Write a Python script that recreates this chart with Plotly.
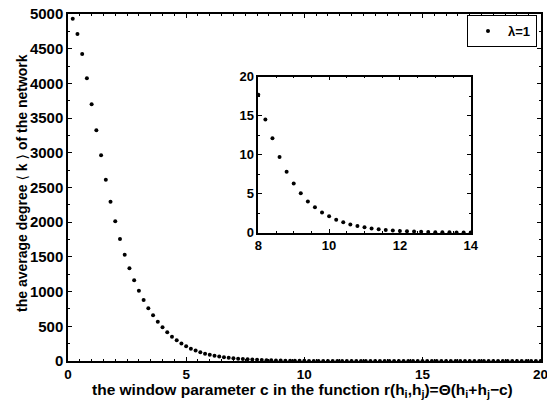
import plotly.graph_objects as go

c_values = [round(0.2 * i, 1) for i in range(1, 101)]
k_values = [
    4932, 4712, 4424, 4073, 3699, 3324, 2964, 2612, 2295, 2013,
    1758, 1532, 1336, 1163, 1013, 879, 759, 659, 566, 486,
    414, 350, 300, 253, 212, 178, 150, 126, 106, 90,
    76.5, 65, 55, 46.8, 39.8, 33.8, 28.7, 24.4, 20.8, 17.7,
    14.5, 12.1, 9.7, 7.8, 6.3, 5.05, 4.0, 3.25, 2.6, 2.1,
    1.67, 1.33, 1.04, 0.86, 0.69, 0.55, 0.44, 0.35, 0.28, 0.22,
    0.18, 0.14, 0.11, 0.09, 0.07, 0.056, 0.045, 0.036, 0.029, 0.023,
    0.018, 0.015, 0.012, 0.0095, 0.0076, 0.006, 0.0048, 0.0038, 0.003, 0.0024,
    0.0019, 0.0015, 0.0012, 0.001, 0.0008, 0.0006, 0.0005, 0.0004, 0.0003, 0.00025,
    0.0002, 0.00016, 0.00013, 0.0001, 0.00008, 0.00006, 0.00005, 0.00004, 0.00003, 0.00002,
]
legend_label = "λ=1"
x_title = "the window parameter c in the function r(h<sub>i</sub>,h<sub>j</sub>)=Θ(h<sub>i</sub>+h<sub>j</sub>−c)"
y_title = ("the average degree <span style=\"font-family:DejaVu Sans;font-weight:normal\">\u27E8</span> k "
           "<span style=\"font-family:DejaVu Sans;font-weight:normal\">\u27E9</span> of the network")
main_xticks = [0, 5, 10, 15, 20]
main_yticks = [0, 500, 1000, 1500, 2000, 2500, 3000, 3500, 4000, 4500, 5000]
inset_xticks = [8, 10, 12, 14]
inset_yticks = [0, 5, 10, 15, 20]
inset_xrange = [8, 14]

inset_c = [c for c in c_values if inset_xrange[0] - 1e-9 <= c <= inset_xrange[1] + 1e-9]
inset_k = [k for c, k in zip(c_values, k_values) if inset_xrange[0] - 1e-9 <= c <= inset_xrange[1] + 1e-9]

FONT = "Liberation Sans, Arial, Helvetica, sans-serif"
W, H = 547, 403

fig = go.Figure()
fig.add_trace(go.Scatter(
    x=c_values, y=k_values, mode="markers", name=legend_label,
    marker=dict(color="black", size=4), cliponaxis=False,
    xaxis="x", yaxis="y",
))
fig.add_trace(go.Scatter(
    x=inset_c, y=inset_k, mode="markers", showlegend=False,
    marker=dict(color="black", size=4), cliponaxis=False,
    xaxis="x2", yaxis="y2",
))

axis_common = dict(
    showline=True, linecolor="black", linewidth=1.5, mirror="allticks",
    ticks="inside", ticklen=4, tickwidth=1, tickcolor="black",
    showgrid=False, zeroline=False, automargin=False,
    ticklabeloverflow="allow",
)

fig.update_layout(
    width=W, height=H,
    margin=dict(l=0, r=0, t=0, b=0),
    paper_bgcolor="white", plot_bgcolor="white",
    font=dict(family=FONT, color="black", size=14, weight="bold"),
    xaxis=dict(
        domain=[68 / W, 540.6 / W], range=[0, 20], tickvals=main_xticks,
        minor=dict(ticks="inside", dtick=0.5, ticklen=2, tickcolor="black"),
        tickfont=dict(size=13.5, weight="bold"),
        anchor="y", **axis_common,
    ),
    yaxis=dict(
        domain=[1 - 361 / H, 1 - 14 / H], range=[0, 5000], tickvals=main_yticks,
        minor=dict(ticks="inside", dtick=250, ticklen=2, tickcolor="black"),
        tickfont=dict(size=15, weight="bold"),
        anchor="x", **axis_common,
    ),
    xaxis2=dict(
        domain=[258.3 / W, 470.7 / W], range=inset_xrange, tickvals=inset_xticks,
        minor=dict(ticks="inside", dtick=0.5, ticklen=2, tickcolor="black"),
        tickfont=dict(size=13, weight="bold"),
        anchor="y2", **axis_common,
    ),
    yaxis2=dict(
        domain=[1 - 232.7 / H, 1 - 76.7 / H], range=[0, 20], tickvals=inset_yticks,
        minor=dict(ticks="inside", dtick=2.5, ticklen=2, tickcolor="black"),
        tickfont=dict(size=13, weight="bold"),
        anchor="x2", **axis_common,
    ),
    legend=dict(
        x=537 / W, y=1 - 15 / H, xanchor="right", yanchor="top",
        bordercolor="black", borderwidth=1, bgcolor="white",
        font=dict(size=13, weight="bold"), itemwidth=30,
        tracegroupgap=0,
    ),
    showlegend=True,
    annotations=[
        dict(text=x_title, xref="paper", yref="paper",
             x=302.5 / W, y=1 - 390 / H, xanchor="center", yanchor="middle",
             showarrow=False, font=dict(size=15.5, weight="bold")),
        dict(text=y_title, xref="paper", yref="paper", textangle=-90,
             x=22 / W, y=1 - 183 / H, xanchor="center", yanchor="middle",
             showarrow=False, font=dict(size=14, weight="bold")),
    ],
)

fig.write_html("out.html", config={"displayModeBar": False},
               post_script="document.body.style.margin='0';document.body.style.overflow='hidden';")
